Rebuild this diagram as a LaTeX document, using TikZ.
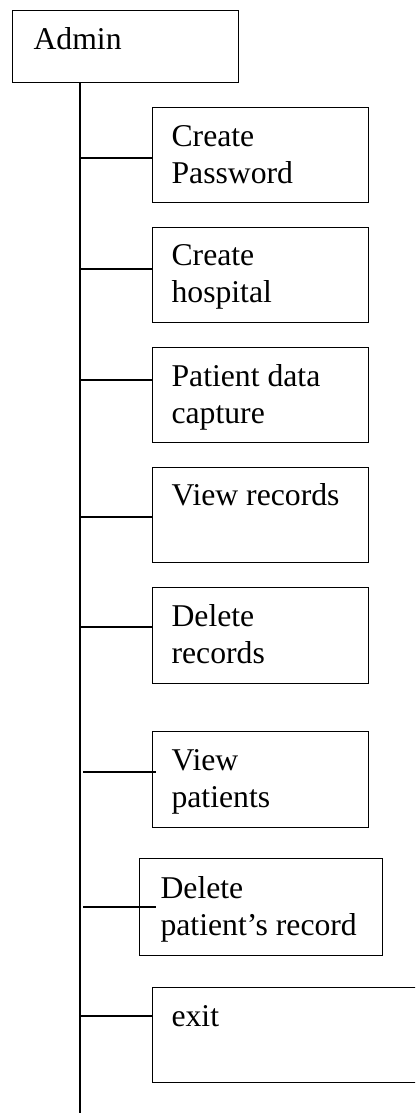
\documentclass[tikz,border=0pt]{standalone}
\usepackage{fontspec}
\setmainfont{Liberation Serif}
\begin{document}
\begin{tikzpicture}[x=1pt, y=-1pt, line width=1.1pt,
  box/.style={draw, rectangle, inner sep=0pt, anchor=north west,
              minimum width=216pt, minimum height=95pt},
  lbl/.style={anchor=base west, inner sep=0pt, align=left,
              font=\fontsize{31.7}{37}\selectfont},
  link/.style={draw, line width=1.1pt}]
\useasboundingbox (0,0) rectangle (415,1113);
\clip (0,0) rectangle (415,1113);

% root
\node[box, minimum width=226pt, minimum height=72pt] (adm) at (12,10) {};
\node[lbl] (admt) at (33,50) {Admin};

% menu entries (labels anchored on the baseline of their last line)
\node[box] (cp) at (152,107) {};
\node[lbl] (cpt) at (171,183) {Create\\Password};
\node[box] (ch) at (152,227) {};
\node[lbl] (cht) at (171,302) {Create\\hospital};
\node[box] (pd) at (152,347) {};
\node[lbl] (pdt) at (171,423) {Patient data\\capture};
\node[box] (vr) at (152,467) {};
\node[lbl] (vrt) at (171,505) {View records};
\node[box, minimum height=96pt] (dr) at (152,587) {};
\node[lbl] (drt) at (171,663) {Delete\\records};
\node[box, minimum height=96pt] (vp) at (152,731) {};
\node[lbl] (vpt) at (171,807) {View\\patients};
\node[box, minimum width=243pt, minimum height=97pt] (dp) at (139,858) {};
\node[lbl] (dpt) at (160,935) {Delete\\patient’s record};
\node[box, minimum width=300pt] (ex) at (152,987) {};
\node[lbl] (ext) at (171,1026) {exit};

% trunk
\coordinate (tb) at (80,1113);
\draw (tb |- adm.south) -- (tb);

% branches
\coordinate (j1) at (80,158);
\coordinate (j2) at (80,269);
\coordinate (j3) at (80,380);
\coordinate (j4) at (80,517);
\coordinate (j5) at (80,627);
\coordinate (j6) at (83,772);
\coordinate (e6) at (156,772);
\coordinate (j7) at (83,907);
\coordinate (e7) at (156,907);
\coordinate (j8) at (80,1016);
\path[link] (j1) -- (j1 -| cp.west);
\path[link] (j2) -- (j2 -| ch.west);
\path[link] (j3) -- (j3 -| pd.west);
\path[link] (j4) -- (j4 -| vr.west);
\path[link] (j5) -- (j5 -| dr.west);
\path[link] (j6) -- (e6);
\path[link] (j7) -- (e7);
\path[link] (j8) -- (j8 -| ex.west);
\end{tikzpicture}
\end{document}
